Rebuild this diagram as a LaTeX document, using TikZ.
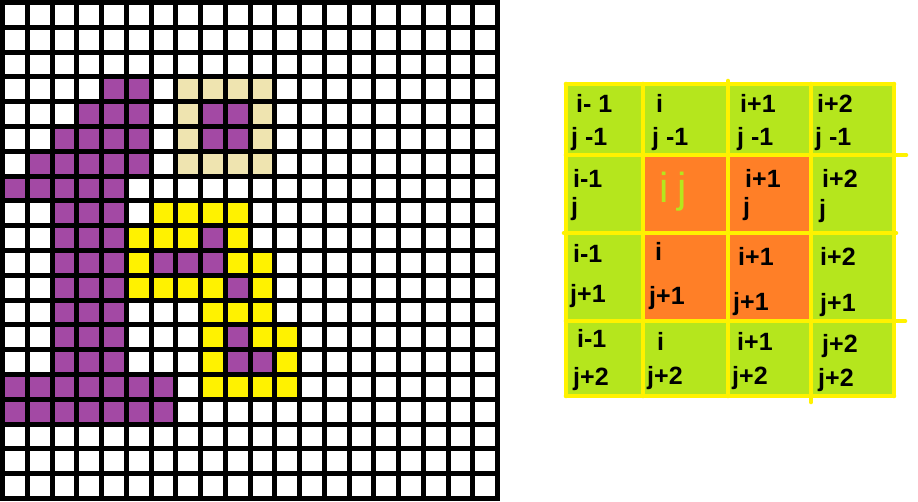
\documentclass[tikz,border=0pt]{standalone}
\usepackage{fontspec}
\setmainfont{Liberation Sans}
\definecolor{gpurple}{RGB}{163,73,164}
\definecolor{gbeige}{RGB}{239,228,176}
\definecolor{gyellow}{RGB}{255,242,0}
\definecolor{glime}{RGB}{181,230,29}
\definecolor{gorange}{RGB}{255,127,39}
\begin{document}
\begin{tikzpicture}[x=1pt,y=-1pt,
  gridline/.style={line width=5pt,black},
  panelline/.style={line width=4.6pt,gyellow,line cap=round},
  lbl/.style={anchor=base west,inner sep=0pt,font=\fontsize{25}{25}\bfseries\selectfont},
  bigl/.style={anchor=base west,inner sep=0pt,text=glime,font=\fontsize{42}{42}\selectfont}]
\useasboundingbox (0,0) rectangle (918,501);
\fill[white] (0,0) rectangle (918,501);
% ---------- left 20x20 grid ----------
\foreach \c/\r in {4/3,5/3,
  3/4,4/4,5/4,8/4,9/4,
  2/5,3/5,4/5,5/5,8/5,9/5,
  1/6,2/6,3/6,4/6,5/6,
  0/7,1/7,2/7,3/7,4/7,
  2/8,3/8,4/8,
  2/9,3/9,4/9,8/9,
  2/10,3/10,4/10,6/10,7/10,8/10,
  2/11,3/11,4/11,9/11,
  2/12,3/12,4/12,
  2/13,3/13,4/13,9/13,
  2/14,3/14,4/14,9/14,10/14,
  0/15,1/15,2/15,3/15,4/15,5/15,6/15,
  0/16,1/16,2/16,3/16,4/16,5/16,6/16}
  \fill[gpurple] ({2.5+24.75*\c},{2.5+24.8*\r}) rectangle ({2.5+24.75*(\c+1)},{2.5+24.8*(\r+1)});
\foreach \c/\r in {7/3,8/3,9/3,10/3,7/4,10/4,7/5,10/5,7/6,8/6,9/6,10/6}
  \fill[gbeige] ({2.5+24.75*\c},{2.5+24.8*\r}) rectangle ({2.5+24.75*(\c+1)},{2.5+24.8*(\r+1)});
\foreach \c/\r in {6/8,7/8,8/8,9/8,
  5/9,6/9,7/9,9/9,
  5/10,9/10,10/10,
  5/11,6/11,7/11,8/11,10/11,
  8/12,9/12,10/12,
  8/13,10/13,11/13,
  8/14,11/14,
  8/15,9/15,10/15,11/15}
  \fill[gyellow] ({2.5+24.75*\c},{2.5+24.8*\r}) rectangle ({2.5+24.75*(\c+1)},{2.5+24.8*(\r+1)});
\foreach \k in {0,...,20}{
  \draw[gridline] ({2.5+24.75*\k},0) -- ({2.5+24.75*\k},501);
  \draw[gridline] (0,{2.5+24.8*\k}) -- (500,{2.5+24.8*\k});
}
% ---------- right 4x4 panel ----------
\fill[glime] (566,84) rectangle (894,396);
\fill[gorange] (643,155) rectangle (811,321);
\draw[panelline] (566,84) -- (894,84);
\draw[panelline] (566,155) -- (906,155);
\draw[panelline] (564,233) -- (896,233);
\draw[panelline] (566,321) -- (905,321);
\draw[panelline] (566,396) -- (894,396);
\draw[panelline] (566,84) -- (566,396);
\draw[panelline] (643,84) -- (643,396);
\draw[panelline] (728,81) -- (728,396);
\draw[panelline] (811,84) -- (811,402);
\draw[panelline] (894,84) -- (894,396);
% labels row 0
\node[lbl] (t00a) at (576,112) {i- 1};
\node[lbl] (t00b) at (571,145) {j -1};
\node[lbl] (t10a) at (656,112) {i};
\node[lbl] (t10b) at (652,145) {j -1};
\node[lbl] (t20a) at (740,112) {i+1};
\node[lbl] (t20b) at (737,145) {j -1};
\node[lbl] (t30a) at (817,112) {i+2};
\node[lbl] (t30b) at (815,145) {j -1};
% labels row 1
\node[lbl] (t01a) at (573,187) {i-1};
\node[lbl] (t01b) at (571,215) {j};
\node[bigl] (t11) at (659,202) {i\hspace{9pt}j};
\node[lbl] (t21a) at (745,187) {i+1};
\node[lbl] (t21b) at (743,215) {j};
\node[lbl] (t31a) at (822,187) {i+2};
\node[lbl] (t31b) at (819,217) {j};
% labels row 2
\node[lbl] (t02a) at (573,262) {i-1};
\node[lbl] (t02b) at (570,302) {j+1};
\node[lbl] (t12a) at (655,260) {i};
\node[lbl] (t12b) at (649,304) {j+1};
\node[lbl] (t22a) at (738,265) {i+1};
\node[lbl] (t22b) at (733,310) {j+1};
\node[lbl] (t32a) at (820,265) {i+2};
\node[lbl] (t32b) at (820,311) {j+1};
% labels row 3
\node[lbl] (t03a) at (577,347) {i-1};
\node[lbl] (t03b) at (573,385) {j+2};
\node[lbl] (t13a) at (657,350) {i};
\node[lbl] (t13b) at (647,384) {j+2};
\node[lbl] (t23a) at (737,350) {i+1};
\node[lbl] (t23b) at (732,384) {j+2};
\node[lbl] (t33a) at (822,352) {j+2};
\node[lbl] (t33b) at (818,386) {j+2};
\end{tikzpicture}
\end{document}
